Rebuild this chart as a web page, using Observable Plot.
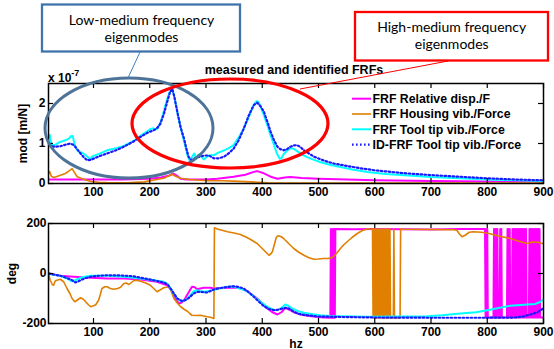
<!DOCTYPE html>
<html><head><meta charset="utf-8">
<script src="https://cdn.jsdelivr.net/npm/d3@7"></script>
<script src="https://cdn.jsdelivr.net/npm/@observablehq/plot@0.6"></script>
<style>
body{margin:0;background:#fff;}
#wrap{position:relative;width:554px;height:349px;overflow:hidden;background:#fff;}
#top,#bot{position:absolute;left:0;}
#top{top:0px}
#bot{top:205px}
#over{position:absolute;left:0;top:0;pointer-events:none}
</style></head><body>
<div id="wrap"><div id="top"></div><div id="bot"></div></div>
<script>
// ---------- series metadata ----------
const seriesNames = ["FRF Relative disp./F", "FRF Housing vib./Force", "FRF Tool tip vib./Force", "ID-FRF Tool tip vib./Force"];
const seriesColors = ["#ff00ff", "#e07f00", "#00ffff", "#1a1aff"];

// ---------- axis ticks ----------
const freqDomain = [20, 900];
const freqTicks = [100, 200, 300, 400, 500, 600, 700, 800, 900];
const magDomain = [0, 2.5];
const magTicks = [0, 1, 2];
const magTickLabels = ["0", "1", "2"];
const phaseDomain = [-200, 200];
const phaseTicks = [-200, 0, 200];
const phaseTickLabels = ["-200", "0", "200"];

// ---------- magnitude (x 1e-7 m/N) : [Hz, value] ----------
const relDispMag = [[20,0.1],[60,0.1],[100,0.1],[150,0.1],[200,0.12],[220,0.15],[235,0.2],[242,0.25],[248,0.2],[255,0.12],[265,0.1],[280,0.1],[300,0.1],[320,0.12],[349,0.17],[370,0.22],[385,0.29],[391,0.31],[400,0.27],[415,0.17],[427,0.12],[440,0.15],[450,0.16],[470,0.14],[500,0.12],[550,0.1],[600,0.08],[700,0.06],[800,0.05],[900,0.05]];
const housingMag = [[20,0.25],[22,0.3],[25,0.18],[30,0.15],[40,0.2],[50,0.25],[58,0.33],[62,0.37],[66,0.28],[71,0.17],[80,0.12],[88,0.08],[95,0.05],[110,0.03],[130,0.02],[160,0.02],[190,0.04],[213,0.1],[225,0.13],[235,0.2],[240,0.23],[246,0.18],[255,0.13],[270,0.1],[290,0.08],[305,0.07],[330,0.07],[349,0.06],[380,0.04],[409,0.02],[450,0.01],[600,0.01],[900,0.01]];
const toolTipMag = [[20,1.15],[22,1.22],[24,1.05],[27,0.95],[32,0.97],[41,1.04],[50,1.08],[56,1.12],[60,1.18],[63,1.19],[66,1.0],[70,0.85],[74,0.79],[80,0.77],[85,0.72],[90,0.66],[94,0.6],[97,0.66],[100,0.69],[110,0.74],[124,0.83],[140,0.88],[154,0.94],[170,1.05],[184,1.2],[195,1.3],[201,1.36],[206,1.38],[210,1.35],[214,1.38],[219,1.52],[224,1.75],[228,1.96],[233,2.2],[237,2.35],[240,2.38],[244,2.15],[249,1.79],[254,1.45],[258,1.21],[263,0.95],[267,0.71],[270,0.6],[272,0.58],[276,0.68],[279,0.75],[283,0.62],[286,0.72],[291,0.7],[296,0.6],[300,0.65],[305,0.7],[314,0.71],[322,0.77],[332,0.83],[340,0.88],[349,0.96],[358,1.15],[367,1.37],[375,1.62],[382,1.88],[388,2.03],[391,2.06],[394,2.02],[397,1.92],[403,1.7],[409,1.46],[415,1.2],[421,0.96],[426,0.75],[431,0.62],[434,0.63],[438,0.73],[444,0.82],[450,0.88],[456,0.87],[462,0.81],[470,0.73],[480,0.66],[492,0.59],[504,0.53],[520,0.47],[539,0.41],[560,0.35],[587,0.29],[620,0.24],[660,0.2],[700,0.16],[750,0.13],[800,0.1],[850,0.08],[900,0.06]];
const idToolTipMag = [[20,0.95],[30,0.92],[41,0.93],[50,0.97],[59,1.0],[65,0.96],[71,0.86],[77,0.75],[83,0.65],[89,0.58],[95,0.59],[100,0.62],[110,0.68],[124,0.75],[140,0.83],[154,0.92],[170,1.04],[184,1.17],[196,1.27],[207,1.33],[214,1.4],[219,1.5],[225,1.73],[231,2.04],[236,2.28],[240,2.37],[244,2.15],[249,1.79],[255,1.4],[261,1.12],[265,0.88],[269,0.67],[273,0.59],[277,0.6],[283,0.65],[290,0.67],[297,0.7],[305,0.7],[314,0.63],[323,0.63],[332,0.67],[340,0.75],[349,0.87],[358,1.08],[367,1.37],[376,1.7],[385,1.96],[391,2.02],[397,1.93],[403,1.79],[409,1.55],[415,1.29],[421,1.08],[427,0.92],[432,0.86],[438,0.83],[444,0.86],[450,0.92],[456,0.95],[462,0.96],[468,0.91],[474,0.83],[483,0.75],[492,0.67],[510,0.57],[527,0.5],[550,0.44],[575,0.38],[600,0.33],[650,0.26],[700,0.21],[750,0.17],[800,0.13],[850,0.1],[900,0.08]];

// ---------- phase (deg) : [Hz, value] ----------
const relDispPhase = [[20,0],[41,-9],[65,-13],[95,-17],[124,-20],[154,-20],[184,-24],[213,-33],[231,-47],[238,-65],[243,-87],[248,-110],[252,-120],[256,-117],[261,-107],[268,-80],[275,-53],[280,-55],[284,-63],[290,-60],[296,-57],[308,-57],[314,-60],[326,-58],[338,-57],[356,-57],[365,-62],[373,-71],[382,-85],[391,-100],[400,-120],[409,-140],[418,-155],[427,-164],[434,-155],[441,-137],[448,-145],[456,-155],[468,-164],[480,-169],[495,-173],[509,-176],[521,-177],
[522,178],[523,-177],[524,178],[525,-177],[526,178],[527,-177],[528,178],[529,-177],[530,178],
[560,177],[600,178],[650,177],[700,176],[750,178],[796,178],
[797,-176],[798,178],[799,-176],[800,178],[801,-176],
[811,-176],[812,178],[813,-176],[814,178],[815,-176],[816,178],[817,-176],[818,178],[819,-176],
[822,-176],[823,178],[824,-176],[825,178],[826,-176],
[835,-176],[836,178],[837,-176],[838,178],[839,-176],[840,178],[841,-176],
[844,-176],[845,178],[846,-176],[847,178],[848,-176],[849,178],[850,-176],[851,178],[852,-176],[853,178],[854,-176],[855,178],[856,-176],[857,178],[858,-176],[859,178],[860,-176],[861,178],[862,-176],[863,178],[864,-176],[865,178],[866,-176],[867,178],[868,-176],[869,178],[870,-176],
[874,-176],[875,178],[876,-176],[877,178],[878,-176],[879,178],[880,-176],[881,178],[882,-176],[883,178],[884,-176],[885,178],[886,-176],[887,178],[888,-176],[889,178],[890,-176],[891,178],[892,-176],[893,178],[894,-176],[900,-176]];
const housingPhase = [[20,0],[23,-27],[27,-45],[29,-47],[32,-30],[35,-27],[41,-23],[47,-33],[53,-60],[58,-80],[62,-100],[67,-113],[72,-105],[77,-97],[82,-103],[86,-113],[91,-125],[95,-133],[100,-129],[104,-125],[109,-107],[112,-85],[115,-60],[120,-53],[124,-53],[130,-60],[136,-63],[143,-60],[148,-55],[154,-40],[158,-38],[163,-44],[168,-35],[172,-27],[178,-28],[184,-31],[193,-38],[201,-47],[207,-60],[213,-73],[219,-65],[225,-57],[234,-53],[238,-70],[243,-100],[249,-118],[255,-133],[261,-143],[267,-151],[271,-160],[275,-167],[282,-168],[290,-167],[296,-170],[302,-173],[308,-175],[314,-180],
[315,183],[320,178],[330,172],[338,167],[350,162],[361,156],[372,145],[380,135],[391,120],[400,100],[408,82],[412,73],[415,78],[418,87],[422,120],[425,145],[428,151],[433,148],[438,140],[446,122],[456,100],[465,85],[474,73],[483,63],[492,57],[500,58],[509,60],[517,60],[524,63],[530,75],[539,100],[545,115],[551,127],[560,145],[569,160],[578,172],[587,178],[596,178],
[597,-178],[598,178],[599,-178],[600,178],[601,-178],[602,178],[603,-178],[604,178],[605,-178],[606,178],[607,-178],[608,178],[610,-178],[611,178],[612,-178],[613,178],[614,-178],[615,178],[617,-178],[618,178],[619,-178],[620,178],[621,-178],[622,178],[624,-178],[625,178],[626,-178],[627,178],[628,-178],
[633,-178],[634,178],[635,-178],[645,-178],[646,178],
[650,177],[700,176],[740,175],[746,173],[750,160],[755,147],[760,152],[768,165],[775,167],[790,165],[803,160],[820,150],[841,140],[855,130],[871,120],[880,126],[890,125],[898,120],[900,120]];
const toolTipPhase = [[20,4],[24,-3],[35,-7],[45,-12],[53,-20],[58,-27],[62,-31],[66,-28],[70,-24],[80,-15],[95,-9],[124,-9],[154,-13],[184,-20],[207,-27],[225,-33],[232,-42],[237,-60],[243,-82],[249,-100],[255,-111],[261,-108],[267,-100],[273,-85],[278,-71],[284,-67],[290,-71],[296,-73],[305,-70],[320,-62],[338,-53],[348,-52],[356,-57],[367,-65],[379,-80],[388,-97],[397,-113],[406,-128],[415,-140],[421,-146],[427,-147],[434,-138],[441,-124],[447,-130],[453,-140],[463,-150],[474,-157],[490,-163],[503,-167],[520,-170],[539,-171],[587,-173],[650,-172],[693,-171],[720,-167],[752,-160],[780,-155],[800,-147],[820,-138],[841,-129],[860,-126],[871,-124],[885,-122],[893,-115],[898,-107],[900,-106]];
const idToolTipPhase = [[20,0],[41,-9],[59,-23],[64,-30],[68,-36],[72,-33],[77,-27],[86,-18],[95,-13],[110,-9],[124,-7],[150,-8],[170,-11],[184,-17],[207,-27],[225,-36],[232,-45],[237,-60],[243,-80],[249,-100],[258,-111],[265,-105],[270,-97],[278,-80],[284,-74],[290,-73],[302,-76],[314,-64],[323,-59],[332,-56],[349,-51],[358,-54],[367,-60],[376,-75],[385,-93],[394,-113],[403,-131],[412,-142],[421,-147],[428,-145],[436,-140],[444,-137],[450,-143],[456,-153],[466,-162],[480,-167],[500,-172],[540,-174],[600,-176],[700,-177],[800,-177],[850,-176],[865,-172],[871,-167],[880,-162],[888,-156],[895,-147],[900,-138]];

// ---------- text ----------
const titleText = "measured and identified FRFs";
const magLabel = "mod [m/N]";
const phaseLabel = "deg";
const freqLabel = "hz";
const lowCallout = ["Low-medium frequency", "eigenmodes"];
const highCallout = ["High-medium frequency", "eigenmodes"];

const FONT = "'Liberation Sans', Arial, sans-serif";
const baseStyle = {fontFamily: FONT, fontSize: "12px", fontWeight: "bold", color: "#000", background: "transparent", overflow: "visible"};
const widths = [2, 1.6, 2, 2.2];
const DOTS = "1.6,2.4";

function seriesMarks(sets) {
  return sets.map((data, i) => Plot.line(data, {
    x: d => d[0], y: d => d[1], stroke: seriesColors[i], strokeWidth: widths[i],
    strokeDasharray: i === 3 ? DOTS : null, clip: true
  }));
}

function tickMarks(yDom, yTicks) {
  const xs = (freqDomain[1] - freqDomain[0]) * 5 / 495;
  const ys = (yDom[1] - yDom[0]) * 5 / 100;
  return [
    Plot.ruleX(freqTicks, {x: d => d, y1: yDom[0], y2: yDom[0] + ys, stroke: "#000", strokeWidth: 1.2}),
    Plot.ruleX(freqTicks, {x: d => d, y1: yDom[1], y2: yDom[1] - ys, stroke: "#000", strokeWidth: 1.2}),
    Plot.ruleY(yTicks, {y: d => d, x1: freqDomain[0], x2: freqDomain[0] + xs, stroke: "#000", strokeWidth: 1.2}),
    Plot.ruleY(yTicks, {y: d => d, x1: freqDomain[1], x2: freqDomain[1] - xs, stroke: "#000", strokeWidth: 1.2})
  ];
}

const topPlot = Plot.plot({
  width: 554, height: 205,
  marginTop: 83, marginBottom: 22, marginLeft: 48, marginRight: 11,
  style: baseStyle,
  x: {domain: freqDomain},
  y: {domain: magDomain},
  marks: [
    ...seriesMarks([relDispMag, housingMag, toolTipMag, idToolTipMag]),
    ...tickMarks(magDomain, magTicks),
    Plot.frame({stroke: "#000", strokeWidth: 1.5}),
    Plot.axisX({ticks: freqTicks, tickSize: 0, tickPadding: 4, label: null}),
    Plot.axisY({ticks: magTicks, tickSize: 0, tickPadding: 3, tickFormat: d => magTickLabels[magTicks.indexOf(d)],
      label: magLabel, labelAnchor: "center", labelOffset: 30, labelArrow: "none"})
  ]
});
document.getElementById("top").appendChild(topPlot);

const botPlot = Plot.plot({
  width: 554, height: 144,
  marginTop: 18, marginBottom: 26, marginLeft: 48, marginRight: 11,
  style: baseStyle,
  x: {domain: freqDomain},
  y: {domain: phaseDomain},
  marks: [
    ...seriesMarks([relDispPhase, housingPhase, toolTipPhase, idToolTipPhase]),
    ...tickMarks(phaseDomain, phaseTicks),
    Plot.frame({stroke: "#000", strokeWidth: 1.5}),
    Plot.axisX({ticks: freqTicks, tickSize: 0, tickPadding: 4, label: freqLabel, labelAnchor: "center", labelOffset: 24, labelArrow: "none"}),
    Plot.axisY({ticks: phaseTicks, tickSize: 0, tickPadding: 2, tickFormat: d => phaseTickLabels[phaseTicks.indexOf(d)],
      label: phaseLabel, labelAnchor: "center", labelOffset: 41, labelArrow: "none"})
  ]
});
document.getElementById("bot").appendChild(botPlot);

// ---------- overlay: title, exponent, legend, callouts ----------
const NS = "http://www.w3.org/2000/svg";
const over = document.createElementNS(NS, "svg");
over.setAttribute("id", "over");
over.setAttribute("width", 554);
over.setAttribute("height", 349);
document.getElementById("wrap").appendChild(over);
function el(tag, attrs, text) {
  const e = document.createElementNS(NS, tag);
  for (const k in attrs) e.setAttribute(k, attrs[k]);
  if (text != null) e.textContent = text;
  over.appendChild(e);
  return e;
}
// title
el("text", {x: 294, y: 74, "text-anchor": "middle", "font-family": FONT, "font-size": 12.5, "font-weight": "bold"}, titleText);
// exponent
const ex = el("text", {x: 48, y: 82, "font-family": FONT, "font-size": 12, "font-weight": "bold"});
ex.appendChild(document.createTextNode("x 10"));
const sup = document.createElementNS(NS, "tspan");
sup.setAttribute("dy", -6); sup.setAttribute("font-size", 9); sup.textContent = "-7";
ex.appendChild(sup);
// legend
const legendY = [98.7, 114, 129.3, 144.6];
seriesNames.forEach((name, i) => {
  el("line", {x1: 352, x2: 371, y1: legendY[i], y2: legendY[i], stroke: seriesColors[i], "stroke-width": widths[i],
    "stroke-dasharray": i === 3 ? DOTS : "none"});
  el("text", {x: 372.5, y: legendY[i] + 4.4, "font-family": FONT, "font-size": 12.3, "font-weight": "bold"}, name);
});
// ellipses
el("ellipse", {cx: 129, cy: 128, rx: 84, ry: 50, fill: "none", stroke: "#4d7398", "stroke-width": 3});
el("ellipse", {cx: 230, cy: 123.5, rx: 98, ry: 44.5, fill: "none", stroke: "#ff0000", "stroke-width": 3.2});
// leader lines
el("line", {x1: 140, y1: 52, x2: 128, y2: 78, stroke: "#3f7fc4", "stroke-width": 1});
el("line", {x1: 448, y1: 61, x2: 300, y2: 89, stroke: "#ff0000", "stroke-width": 1});
// boxes
el("rect", {x: 42, y: 4.5, width: 198, height: 47, fill: "#fff", stroke: "#3f74ac", "stroke-width": 2.3});
el("rect", {x: 355, y: 12, width: 193, height: 48.5, fill: "#fff", stroke: "#ff0000", "stroke-width": 2.3});
const CFONT = "Lato, 'Open Sans', sans-serif";
el("text", {x: 141.5, y: 25, "text-anchor": "middle", "font-family": CFONT, "font-size": 14}, lowCallout[0]);
el("text", {x: 141.5, y: 41.7, "text-anchor": "middle", "font-family": CFONT, "font-size": 14}, lowCallout[1]);
el("text", {x: 451.7, y: 31.7, "text-anchor": "middle", "font-family": CFONT, "font-size": 14}, highCallout[0]);
el("text", {x: 451.7, y: 49.3, "text-anchor": "middle", "font-family": CFONT, "font-size": 14}, highCallout[1]);
</script>
</body></html>
